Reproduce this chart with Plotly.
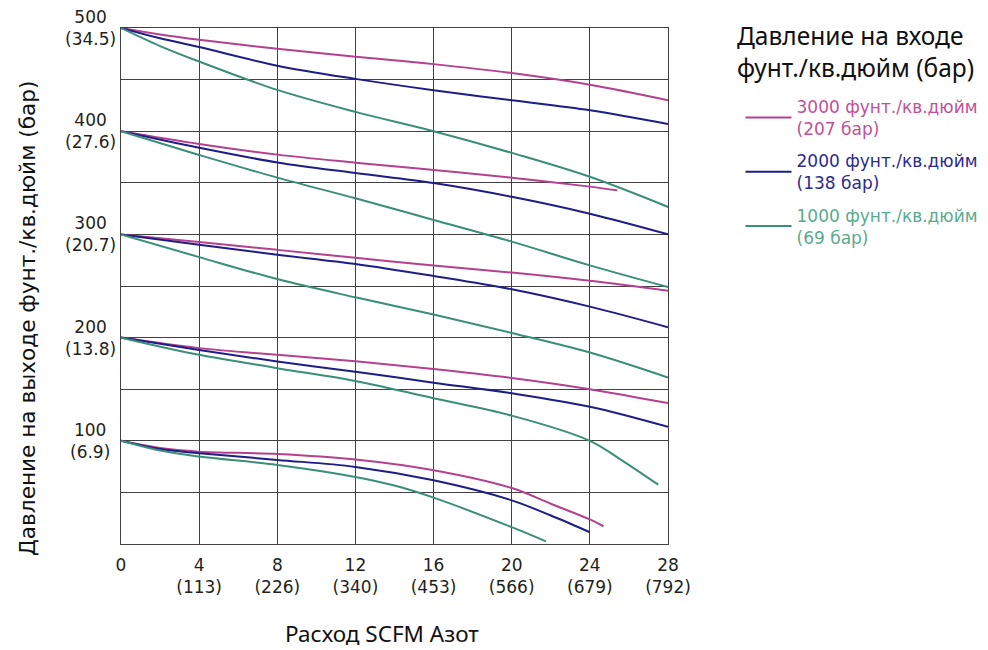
import plotly.graph_objects as go

# ---- data: flow (SCFM) vs outlet pressure (psi); five start-pressure groups per inlet pressure ----
series_names = ["3000 фунт./кв.дюйм<br>(207 бар)",
                "2000 фунт./кв.дюйм<br>(138 бар)",
                "1000 фунт./кв.дюйм<br>(69 бар)"]
line_colors = ["#b4418e", "#1e1d88", "#3a8e77"]
text_colors = ["#c0509a", "#2a2a92", "#5aaa8f"]

# 3000 psi inlet
p3000_x = [
    [0, 2, 4, 8, 12, 16, 20, 24, 28],
    [0, 4, 8, 12, 16, 20, 24, 25.4],
    [0, 4, 8, 12, 16, 20, 24, 28],
    [0, 4, 8, 12, 16, 20, 24, 28],
    [0, 2, 4, 8, 12, 16, 20, 22, 24, 24.7],
]
p3000_y = [
    [500, 493.8, 488.6, 479.8, 472.1, 465, 456.3, 445, 430],
    [400, 387.7, 377.3, 369.5, 362.4, 355, 346.3, 342.7],
    [300, 292.6, 285, 277.3, 269.8, 263, 255, 245.4],
    [200, 189.8, 183.3, 177.1, 169.6, 160.9, 150, 136.5],
    [100, 93, 89.5, 87.3, 81.9, 71.5, 54.2, 39, 23.8, 17.2],
]
# 2000 psi inlet
p2000_x = [
    [0, 2, 4, 8, 12, 16, 20, 24, 28],
    [0, 4, 8, 12, 16, 20, 24, 28],
    [0, 4, 8, 12, 16, 20, 24, 28],
    [0, 4, 8, 12, 16, 20, 24, 28],
    [0, 2, 4, 8, 12, 16, 20, 22, 24],
]
p2000_y = [
    [500, 490, 481.5, 463.5, 450.7, 439.7, 430, 420.3, 407],
    [400, 384, 369.7, 359.4, 349.7, 336.4, 320, 300],
    [300, 290, 280.3, 271.4, 259.7, 246.8, 230, 210],
    [200, 188, 176.8, 167, 156.3, 146, 133, 113.5],
    [100, 92, 88, 81.5, 74.7, 61.7, 42.3, 27.6, 11.4],
]
# 1000 psi inlet
p1000_x = [
    [0, 2, 4, 8, 12, 16, 20, 24, 28],
    [0, 4, 8, 12, 16, 20, 24, 28],
    [0, 4, 8, 12, 16, 20, 24, 28],
    [0, 4, 8, 12, 16, 20, 24, 25.5, 27.5],
    [0, 2, 4, 8, 12, 14, 16, 20, 21.75],
]
p1000_y = [
    [500, 482.5, 467.5, 440, 418.7, 400, 379, 355.8, 326.6],
    [400, 377, 355, 335, 314, 293, 270, 249],
    [300, 278, 256.7, 239, 222.4, 204.5, 185.5, 161.3],
    [200, 183.3, 170.4, 158, 141.2, 124.4, 100, 82.8, 57.5],
    [100, 90.5, 84.7, 76.6, 65, 56.6, 44.9, 16.3, 2.6],
]

x_tick_vals = [0, 4, 8, 12, 16, 20, 24, 28]
x_tick_text = ["0", "4<br>(113)", "8<br>(226)", "12<br>(340)", "16<br>(453)",
               "20<br>(566)", "24<br>(679)", "28<br>(792)"]
y_tick_vals = [100, 200, 300, 400, 500]
y_tick_text = ["100<br>(6.9)", "200<br>(13.8)", "300<br>(20.7)", "400<br>(27.6)", "500<br>(34.5)"]

legend_title = "Давление на входе<br>фунт./кв.дюйм (бар)"
x_title = "Расход SCFM Азот"
y_title = "Давление на выходе фунт./кв.дюйм (бар)"

TICK_FONT = "DejaVu Sans"
TEXT_COL = "#231f20"
L, T, W, H = 121, 28, 547, 516  # plot area in pixels


def px_x(p):
    return (p - L) / W


def px_y(p):
    return (T + H - p) / H


fig = go.Figure()
all_x = [p3000_x, p2000_x, p1000_x]
all_y = [p3000_y, p2000_y, p1000_y]
for i in range(3):
    xs, ys = [], []
    for gx, gy in zip(all_x[i], all_y[i]):
        xs += gx + [None]
        ys += gy + [None]
    label = "<br>".join("<span style='color:%s'>%s</span>" % (text_colors[i], part)
                        for part in series_names[i].split("<br>"))
    fig.add_trace(go.Scatter(
        x=xs, y=ys, mode="lines", name=label,
        line=dict(color=line_colors[i], width=2, shape="spline", smoothing=1.0),
        legendgroup=str(i), connectgaps=False,
    ))

grid_col = "#454040"
fig.update_xaxes(range=[0, 28], tickvals=x_tick_vals, ticktext=x_tick_text,
                 showgrid=True, gridcolor=grid_col, gridwidth=1.3,
                 showline=True, mirror=True, linecolor=grid_col, linewidth=1.3,
                 zeroline=False, ticks="outside", ticklen=5, tickcolor="rgba(0,0,0,0)",
                 tickfont=dict(family=TICK_FONT, size=17, color=TEXT_COL))
fig.update_yaxes(range=[0, 500], dtick=50, showticklabels=False,
                 showgrid=True, gridcolor=grid_col, gridwidth=1.3,
                 showline=True, mirror=True, linecolor=grid_col, linewidth=1.3,
                 zeroline=False)

for v, t in zip(y_tick_vals, y_tick_text):
    fig.add_annotation(x=px_x(90), xref="paper", y=v, yref="y", text=t, showarrow=False,
                       xanchor="center", yanchor="middle", align="center",
                       font=dict(family=TICK_FONT, size=17, color=TEXT_COL))

fig.add_annotation(x=px_x(382), xref="paper", y=px_y(633), yref="paper",
                   text=x_title, showarrow=False, xanchor="center", yanchor="middle",
                   font=dict(family="Noto Sans", size=22.5, color="#111"))
fig.add_annotation(x=px_x(27), xref="paper", y=px_y(319), yref="paper",
                   text=y_title, showarrow=False, textangle=-90, xanchor="center", yanchor="middle",
                   font=dict(family=TICK_FONT, size=21.6, color="#111"))
fig.add_annotation(x=px_x(735), xref="paper", y=px_y(52), yref="paper",
                   text=legend_title, showarrow=False, xanchor="left", yanchor="middle", align="left",
                   font=dict(family="Noto Sans", size=24.5, color="#111"))

fig.update_layout(
    width=988, height=650,
    margin=dict(l=L, r=988 - L - W, t=T, b=650 - T - H, autoexpand=False),
    plot_bgcolor="white", paper_bgcolor="white",
    showlegend=True,
    legend=dict(
        x=px_x(740.5), xanchor="left", y=px_y(89), yanchor="top",
        font=dict(family=TICK_FONT, size=17),
        tracegroupgap=7, traceorder="grouped", valign="middle",
        itemwidth=46,
        bgcolor="rgba(0,0,0,0)",
    ),
)

fig.write_html("out.html", config={"displayModeBar": False},
               post_script="document.body.style.margin='0px';")
